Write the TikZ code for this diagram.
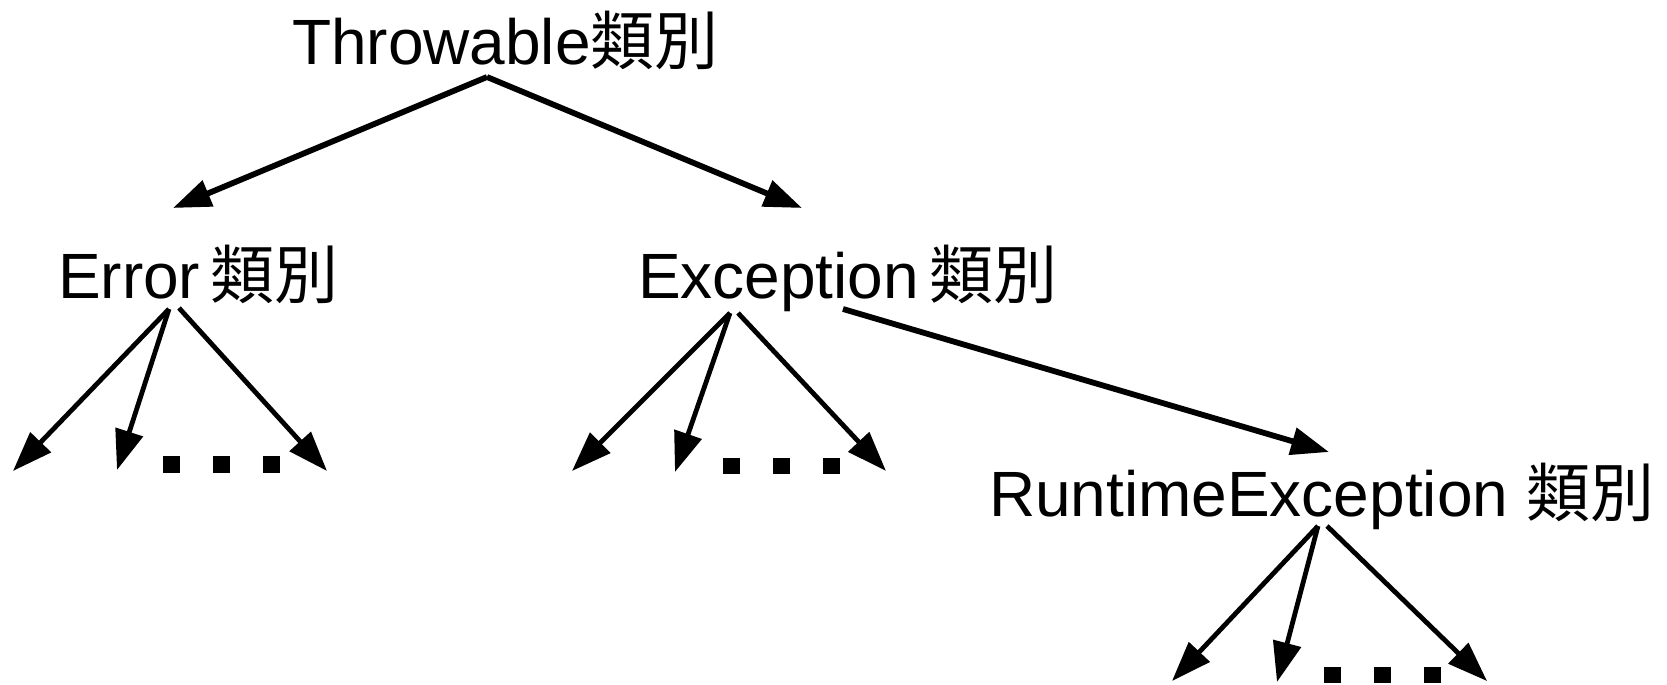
\documentclass[tikz,border=0pt]{standalone}
\usepackage{fontspec}
\setmainfont{Liberation Sans}
\newfontfamily\cjk{Noto Sans CJK TC}
\usetikzlibrary{arrows.meta}
\begin{document}
\begin{tikzpicture}[x=0.5pt,y=-0.5pt,
  label/.style={anchor=base west,inner sep=0pt,outer sep=0pt,font=\fontsize{32pt}{36pt}\selectfont},
  bigarrow/.style={line width=2.9pt,-{Triangle[length=19pt,width=13.5pt]}},
  smallarrow/.style={line width=2.4pt,-{Triangle[length=20pt,width=14pt]}},
  dot/.style={fill=black}]
\useasboundingbox (0,0) rectangle (1667,685);

% class labels
\node[label] (thr) at (292,64) {Throwable{\cjk 類別}};
\node[label] (err) at (58,298) {Error\,{\cjk 類別}};
\node[label] (exc) at (638,298) {Exception\,{\cjk 類別}};
\node[label] (rte) at (989,516) {RuntimeException {\cjk 類別}};

% attachment points of the connectors
\coordinate (thr-out) at (487,77);
\coordinate (err-in)  at (173,208);
\coordinate (exc-in)  at (802,208);
\coordinate (err-outa) at (169,309);
\coordinate (err-outb) at (179,308);
\coordinate (exc-outa) at (730,313);
\coordinate (exc-outb) at (738,313);
\coordinate (exc-side) at (843,309);
\coordinate (rte-in)  at (1329,452);
\coordinate (rte-outa) at (1318,526);
\coordinate (rte-outb) at (1327,526);

% leaves
\coordinate (e1) at (13,471);
\coordinate (e2) at (117,470);
\coordinate (e3) at (327,471);
\coordinate (x1) at (572,471);
\coordinate (x2) at (675,472);
\coordinate (x3) at (886,471);
\coordinate (r1) at (1172,681);
\coordinate (r2) at (1277,682);
\coordinate (r3) at (1487,681);

% hierarchy
\draw[bigarrow] (thr-out) -- (err-in);
\draw[bigarrow] (thr-out) -- (exc-in);
\draw[bigarrow] (exc-side) -- (rte-in);

\draw[smallarrow] (err-outa) -- (e1);
\draw[smallarrow] (err-outa) -- (e2);
\draw[smallarrow] (err-outb) -- (e3);
\draw[smallarrow] (exc-outa) -- (x1);
\draw[smallarrow] (exc-outa) -- (x2);
\draw[smallarrow] (exc-outb) -- (x3);
\draw[smallarrow] (rte-outa) -- (r1);
\draw[smallarrow] (rte-outa) -- (r2);
\draw[smallarrow] (rte-outb) -- (r3);

% ellipsis marks
\foreach \x in {163,213,263} \fill[dot] (\x,456) rectangle ++(17,17);
\foreach \x in {723,773,823} \fill[dot] (\x,458) rectangle ++(17,16);
\foreach \x in {1324,1374,1424} \fill[dot] (\x,667) rectangle ++(17,16);
\end{tikzpicture}
\end{document}
